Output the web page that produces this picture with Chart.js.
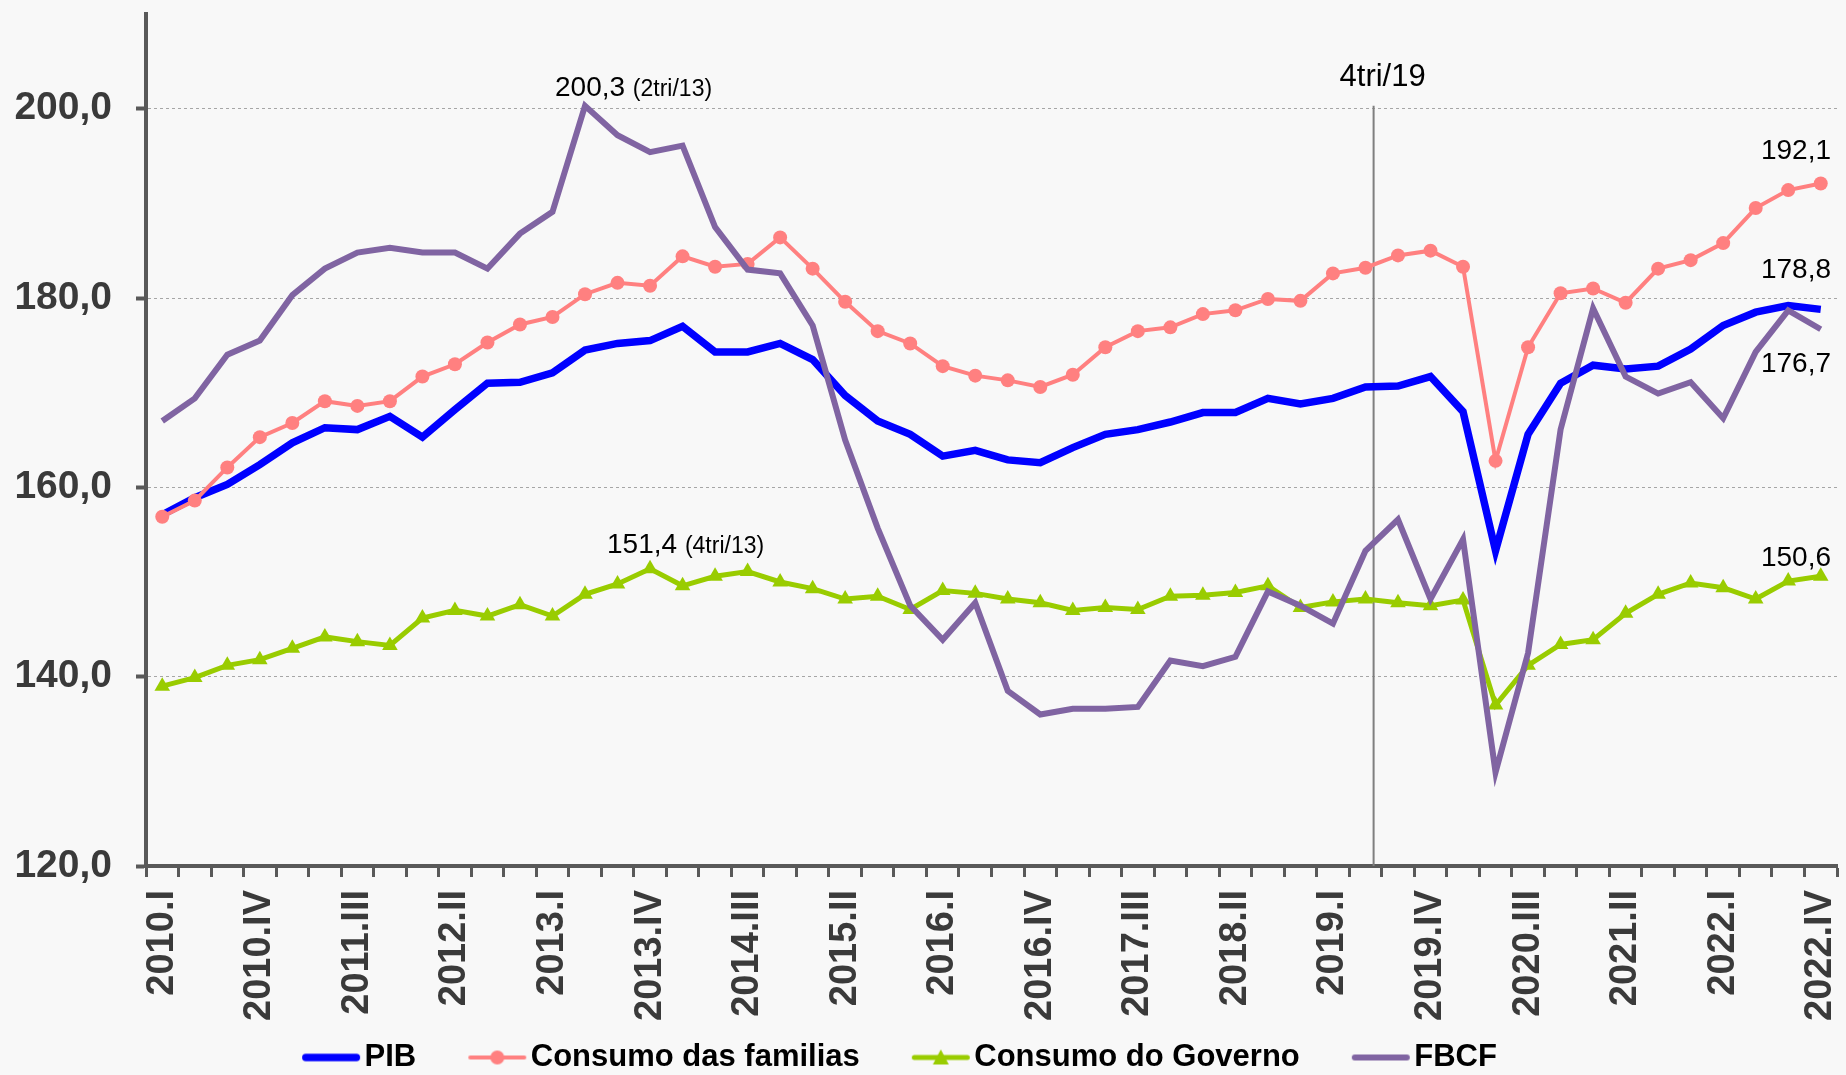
<!DOCTYPE html>
<html>
<head>
<meta charset="utf-8">
<title>PIB e componentes da demanda</title>
<script src="https://cdn.jsdelivr.net/npm/chart.js@4.4.1/dist/chart.umd.min.js"></script>
<style>
  html, body { margin: 0; padding: 0; background: #f8f8f8; }
  #wrap { width: 1846px; height: 1075px; }
</style>
</head>
<body>
<div id="wrap"><canvas id="myChart" width="1846" height="1075"></canvas></div>
<script>
const years = [2010, 2011, 2012, 2013, 2014, 2015, 2016, 2017, 2018, 2019, 2020, 2021, 2022];
const romans = ['I', 'II', 'III', 'IV'];

let quarters = [];
for (const yr of years) {
    for (const q of romans) {
        quarters.push(yr + '.' + q);
    }
}

const pib = [157.1, 158.9, 160.3, 162.4, 164.7, 166.3, 166.1, 167.5, 165.3, 168.2,
    171.0, 171.1, 172.1, 174.5, 175.2, 175.5, 177.0, 174.3, 174.3, 175.2,
    173.5, 169.7, 167.0, 165.6, 163.3, 163.9, 162.9, 162.6, 164.2, 165.6,
    166.1, 166.9, 167.9, 167.9, 169.4, 168.8, 169.4, 170.6, 170.7, 171.7,
    168.0, 153.3, 165.6, 171.0, 172.9, 172.5, 172.8, 174.6, 177.1, 178.5,
    179.2, 178.8];

const familias = [156.9, 158.6, 162.1, 165.3, 166.8, 169.1, 168.6, 169.1, 171.7, 173.0,
    175.3, 177.2, 178.0, 180.4, 181.6, 181.3, 184.4, 183.3, 183.6, 186.4,
    183.1, 179.6, 176.5, 175.2, 172.8, 171.8, 171.3, 170.6, 171.9, 174.8,
    176.5, 176.9, 178.3, 178.7, 179.9, 179.7, 182.6, 183.2, 184.5, 185.0,
    183.3, 162.8, 174.8, 180.5, 181.0, 179.5, 183.1, 184.0, 185.8, 189.5,
    191.4, 192.1];

const governo = [139.0, 139.9, 141.2, 141.8, 143.0, 144.2, 143.7, 143.3, 146.2, 147.0,
    146.4, 147.6, 146.4, 148.7, 149.8, 151.4, 149.6, 150.6, 151.1, 150.0,
    149.3, 148.2, 148.5, 147.1, 149.1, 148.8, 148.2, 147.8, 147.0, 147.3,
    147.1, 148.5, 148.6, 148.9, 149.6, 147.3, 147.9, 148.2, 147.8, 147.5,
    148.1, 137.0, 141.2, 143.4, 143.9, 146.7, 148.7, 149.9, 149.4, 148.2,
    150.1, 150.6];

const fbcf = [167.0, 169.4, 174.0, 175.5, 180.3, 183.1, 184.8, 185.3, 184.8, 184.8,
    183.1, 186.8, 189.1, 200.3, 197.2, 195.4, 196.1, 187.5, 183.0, 182.6,
    177.1, 165.0, 155.7, 147.5, 143.9, 147.8, 138.5, 136.0, 136.6, 136.6,
    136.8, 141.7, 141.1, 142.1, 149.0, 147.5, 145.6, 153.3, 156.6, 148.2,
    154.5, 129.9, 142.5, 166.1, 178.9, 171.7, 169.9, 171.1, 167.3, 174.3,
    178.7, 176.7];

const yTicks = [120, 140, 160, 180, 200];

// vertical reference line (category units) and its caption
const markerPos = 37.25;
const markerText = '4tri/19';

const fontFamily = '"Liberation Sans", Arial, sans-serif';
const axisColor = '#595959';
const textColor = '#3a3a3a';

const fmt = v => v.toFixed(1).replace('.', ',');
const romanNum = { I: 1, II: 2, III: 3, IV: 4 };
const shortQuarter = lbl => {
    const [yr, q] = lbl.split('.');
    return romanNum[q] + 'tri/' + yr.slice(2);
};
const peakIndex = arr => arr.indexOf(Math.max(...arr));

// legend symbol: transparent margin on the left, then the line sample
function legendIcon(color, lineW, marker) {
    const c = document.createElement('canvas');
    c.width = 113;
    c.height = 20;
    const g = c.getContext('2d');
    const x0 = 53;
    g.strokeStyle = color;
    g.fillStyle = color;
    g.lineWidth = lineW;
    g.lineCap = 'round';
    g.beginPath();
    g.moveTo(x0 + lineW / 2 + 1, 10);
    g.lineTo(112 - lineW / 2, 10);
    g.stroke();
    const cx = x0 + 30;
    if (marker === 'circle') {
        g.beginPath();
        g.arc(cx, 10, 7, 0, Math.PI * 2);
        g.fill();
    } else if (marker === 'triangle') {
        g.beginPath();
        g.moveTo(cx, 2);
        g.lineTo(cx + 8, 17);
        g.lineTo(cx - 8, 17);
        g.closePath();
        g.fill();
    }
    return c;
}

const series = [
    { label: 'PIB', data: pib, color: '#0000ff', width: 7.5, marker: null, order: 3 },
    { label: 'Consumo das familias', data: familias, color: '#ff8080', width: 4, marker: 'circle', order: 2 },
    { label: 'Consumo do Governo', data: governo, color: '#99cc00', width: 5, marker: 'triangle', order: 1 },
    { label: 'FBCF', data: fbcf, color: '#8064a2', width: 6, marker: null, order: 0 }
];

const labelPlugin = {
    id: 'valueLabels',
    beforeDatasetsDraw(chart) {
        const { ctx, chartArea } = chart;
        const { x, y } = chart.scales;
        const mx = x.getPixelForValue(markerPos);
        ctx.save();
        ctx.strokeStyle = '#7f7f7f';
        ctx.lineWidth = 2;
        ctx.beginPath();
        ctx.moveTo(mx, y.getPixelForValue(200.3));
        ctx.lineTo(mx, chartArea.bottom);
        ctx.stroke();
        ctx.restore();
    },
    afterDatasetsDraw(chart) {
        const { ctx, chartArea } = chart;
        const { x, y } = chart.scales;
        ctx.save();
        ctx.fillStyle = '#000';
        ctx.textBaseline = 'alphabetic';

        // caption of the vertical line
        ctx.font = '31px ' + fontFamily;
        ctx.textAlign = 'center';
        ctx.fillText(markerText, x.getPixelForValue(markerPos) + 9, y.getPixelForValue(200) - 23);

        // peaks with quarter
        const peak = (dsIndex, arr, dx, dy) => {
            const i = peakIndex(arr);
            const pt = chart.getDatasetMeta(dsIndex).data[i];
            ctx.textAlign = 'left';
            ctx.font = '28px ' + fontFamily;
            const main = fmt(arr[i]);
            ctx.fillText(main, pt.x + dx, pt.y + dy);
            const w = ctx.measureText(main + ' ').width;
            ctx.font = '23px ' + fontFamily;
            ctx.fillText('(' + shortQuarter(quarters[i]) + ')', pt.x + dx + w, pt.y + dy);
        };
        peak(3, fbcf, -30, -10);
        peak(2, governo, -43, -16);

        // last values
        const last = quarters.length - 1;
        const ends = [[1, familias, -24], [0, pib, -31], [3, fbcf, 43], [2, governo, -10]];
        ctx.font = '28px ' + fontFamily;
        ctx.textAlign = 'right';
        for (const [dsIndex, arr, dy] of ends) {
            const pt = chart.getDatasetMeta(dsIndex).data[last];
            ctx.fillText(fmt(arr[last]), chartArea.right - 6, pt.y + dy);
        }
        ctx.restore();
    },
    afterLayout(chart) {
        // Excel legend sits left of the canvas centre
        chart.legend.left -= 89;
    }
};

const ctx = document.getElementById('myChart');

new Chart(ctx, {
    type: 'line',
    data: {
        labels: quarters,
        datasets: series.map(s => ({
            label: s.label,
            data: s.data,
            borderColor: s.color,
            backgroundColor: s.color,
            borderWidth: s.width,
            pointStyle: s.marker || 'circle',
            pointRadius: s.marker === 'circle' ? 7 : (s.marker === 'triangle' ? 9 : 0),
            pointBorderWidth: 0,
            pointBackgroundColor: s.color,
            tension: 0,
            fill: false,
            order: s.order
        }))
    },
    options: {
        responsive: false,
        animation: false,
        events: [],
        layout: { padding: { top: 14, left: 0, right: 0, bottom: -8 } },
        plugins: {
            tooltip: { enabled: false },
            legend: {
                position: 'bottom',
                labels: {
                    usePointStyle: true,
                    pointStyleWidth: 89,
                    padding: 10,
                    color: textColor,
                    font: { family: fontFamily, size: 31, weight: 'bold' },
                    generateLabels: () => series.map((s, i) => ({
                        text: s.label,
                        pointStyle: legendIcon(s.color, s.width, s.marker),
                        fillStyle: s.color,
                        strokeStyle: s.color,
                        lineWidth: 0,
                        hidden: false,
                        datasetIndex: i
                    }))
                }
            }
        },
        scales: {
            x: {
                offset: true,
                afterFit: s => { s.height = 166; s.paddingLeft = 0; s.paddingRight = 0; },
                border: { color: axisColor, width: 4 },
                grid: {
                    offset: true,
                    drawOnChartArea: false,
                    tickLength: 11,
                    tickColor: axisColor,
                    tickWidth: 3
                },
                ticks: {
                    autoSkip: false,
                    minRotation: 90,
                    maxRotation: 90,
                    padding: 13,
                    color: textColor,
                    font: { family: fontFamily, size: 38, weight: 'bold' },
                    callback: (v, i) => (i % 3 === 0 ? quarters[i] : '')
                }
            },
            y: {
                min: 120,
                max: 210,
                afterFit: s => { s.width = 146; s.paddingTop = 0; s.paddingBottom = 0; },
                afterBuildTicks: s => { s.ticks = yTicks.map(v => ({ value: v })); },
                border: { color: axisColor, width: 4, dash: [3, 3] },
                grid: {
                    color: '#a6a6a6',
                    lineWidth: 1,
                    tickLength: 10,
                    tickColor: axisColor,
                    tickWidth: 4,
                    tickBorderDash: []
                },
                ticks: {
                    padding: 24,
                    color: textColor,
                    font: { family: fontFamily, size: 39, weight: 'bold' },
                    callback: v => fmt(v)
                }
            }
        }
    },
    plugins: [labelPlugin]
});
</script>
</body>
</html>
